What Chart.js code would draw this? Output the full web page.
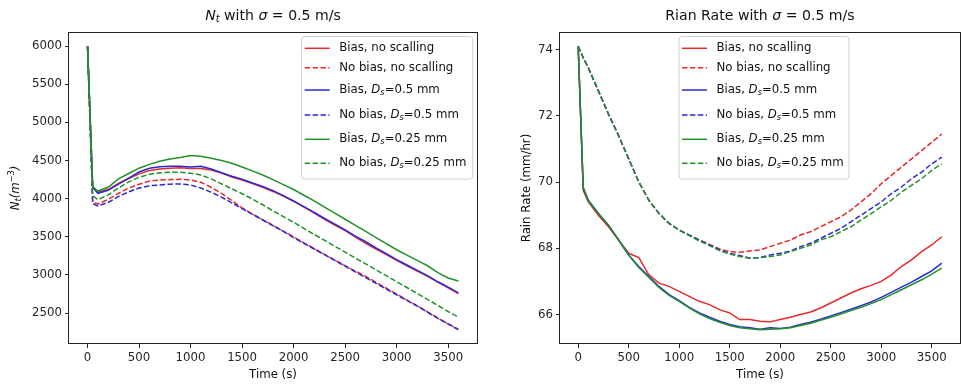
<!DOCTYPE html>
<html>
<head>
<meta charset="utf-8">
<script src="https://cdn.jsdelivr.net/npm/chart.js@4.4.1/dist/chart.umd.min.js"></script>
<style>
  html, body { margin: 0; padding: 0; background: #fff; }
  #wrap { position: relative; width: 961px; height: 387px; }
  canvas { position: absolute; top: 0; }
  #ntChart { left: 0; }
  #rrChart { left: 480px; }
</style>
</head>
<body>
<div id="wrap">
  <canvas id="ntChart" width="480" height="387"></canvas>
  <canvas id="rrChart" width="481" height="387"></canvas>
</div>
<script>
// time axis (s)
const times = [0, 50, 100, 200, 300, 400, 500, 600, 700, 800, 900, 1000, 1100, 1200, 1300, 1400, 1500, 1600, 1700, 1800,
  1900, 2000, 2100, 2200, 2300, 2400, 2500, 2600, 2700, 2800, 2900, 3000, 3100, 3200, 3300, 3400, 3500, 3600];
const timeTicks = [0, 500, 1000, 1500, 2000, 2500, 3000, 3500];
const ntTicks = [2500, 3000, 3500, 4000, 4500, 5000, 5500, 6000];
const rrTicks = [66, 68, 70, 72, 74];

const seriesLabels = ['Bias, no scalling', 'No bias, no scalling', 'Bias, Ds=0.5 mm', 'No bias, Ds=0.5 mm',
  'Bias, Ds=0.25 mm', 'No bias, Ds=0.25 mm'];

// N_t (m^-3)
const ntBiasNoScale = [6000, 4150, 4085, 4120, 4200, 4265, 4325, 4370, 4390, 4400, 4405, 4395, 4395, 4375, 4335, 4285, 4245, 4200, 4150, 4095,
  4035, 3965, 3890, 3810, 3730, 3655, 3580, 3495, 3415, 3340, 3265, 3190, 3120, 3050, 2980, 2905, 2830, 2755];
const ntNoBiasNoScale = [6000, 3955, 3930, 3990, 4070, 4140, 4190, 4230, 4245, 4250, 4255, 4245, 4215, 4150, 4070, 3975, 3880, 3800, 3725, 3650,
  3575, 3500, 3420, 3345, 3270, 3195, 3120, 3050, 2980, 2905, 2825, 2750, 2670, 2595, 2515, 2435, 2355, 2280];
const ntBias05 = [6000, 4150, 4070, 4110, 4190, 4270, 4350, 4400, 4420, 4425, 4425, 4415, 4425, 4390, 4340, 4295, 4255, 4205, 4160, 4105,
  4040, 3970, 3895, 3820, 3740, 3665, 3590, 3510, 3435, 3355, 3280, 3200, 3130, 3060, 2990, 2910, 2840, 2765];
const ntNoBias05 = [6000, 3935, 3905, 3950, 4030, 4090, 4140, 4170, 4180, 4190, 4193, 4180, 4140, 4085, 4020, 3945, 3870, 3795, 3720, 3645,
  3570, 3490, 3415, 3340, 3265, 3190, 3115, 3040, 2965, 2890, 2815, 2740, 2665, 2590, 2510, 2430, 2360, 2285];
const ntBias025 = [6000, 4160, 4100, 4150, 4260, 4330, 4400, 4450, 4490, 4520, 4540, 4565, 4555, 4530, 4500, 4465, 4415, 4365, 4310, 4250,
  4185, 4120, 4045, 3970, 3890, 3810, 3730, 3650, 3570, 3490, 3410, 3330, 3260, 3190, 3120, 3030, 2960, 2920];
const ntNoBias025 = [6000, 4040, 3985, 4050, 4140, 4220, 4280, 4320, 4340, 4345, 4345, 4335, 4310, 4260, 4195, 4130, 4065, 3995, 3920, 3840,
  3765, 3690, 3610, 3530, 3455, 3375, 3300, 3220, 3145, 3065, 2990, 2910, 2835, 2755, 2680, 2600, 2520, 2445];

// rain rate (mm/hr)
const rrBiasNoScale = [74.1, 69.75, 69.4, 69.0, 68.65, 68.25, 67.85, 67.72, 67.2, 66.95, 66.85, 66.7, 66.55, 66.4, 66.3, 66.15, 66.05, 65.85, 65.85, 65.8,
  65.78, 65.85, 65.92, 66.0, 66.08, 66.2, 66.35, 66.5, 66.65, 66.78, 66.88, 67.0, 67.2, 67.45, 67.65, 67.9, 68.1, 68.35];
const rrNoBiasNoScale = [74.1, 73.75, 73.45, 72.75, 72.05, 71.4, 70.7, 70.0, 69.45, 69.05, 68.75, 68.55, 68.4, 68.25, 68.12, 67.98, 67.9, 67.88, 67.92, 67.95,
  68.05, 68.15, 68.25, 68.4, 68.5, 68.65, 68.8, 68.95, 69.15, 69.4, 69.65, 69.95, 70.2, 70.45, 70.7, 70.95, 71.2, 71.45];
const rrBias05 = [74.1, 69.8, 69.45, 69.05, 68.7, 68.25, 67.8, 67.45, 67.15, 66.85, 66.6, 66.42, 66.22, 66.05, 65.92, 65.8, 65.7, 65.63, 65.6, 65.56,
  65.6, 65.58, 65.62, 65.7, 65.77, 65.86, 65.96, 66.06, 66.16, 66.27, 66.38, 66.52, 66.67, 66.83, 66.98, 67.15, 67.32, 67.55];
const rrNoBias05 = [74.1, 73.75, 73.45, 72.75, 72.05, 71.4, 70.7, 70.0, 69.45, 69.05, 68.75, 68.55, 68.4, 68.25, 68.1, 67.95, 67.85, 67.78, 67.7, 67.72,
  67.8, 67.85, 67.92, 68.05, 68.15, 68.3, 68.45, 68.6, 68.8, 69.0, 69.2, 69.4, 69.65, 69.85, 70.1, 70.3, 70.55, 70.75];
const rrBias025 = [74.1, 69.85, 69.45, 69.05, 68.7, 68.25, 67.8, 67.42, 67.12, 66.82, 66.58, 66.4, 66.2, 66.02, 65.88, 65.77, 65.67, 65.6, 65.57, 65.54,
  65.56, 65.57, 65.6, 65.67, 65.74, 65.83, 65.92, 66.02, 66.12, 66.22, 66.33, 66.45, 66.6, 66.75, 66.9, 67.05, 67.22, 67.4];
const rrNoBias025 = [74.1, 73.75, 73.45, 72.75, 72.05, 71.4, 70.7, 70.0, 69.45, 69.05, 68.75, 68.55, 68.38, 68.22, 68.08, 67.93, 67.83, 67.75, 67.7, 67.72,
  67.75, 67.8, 67.9, 68.0, 68.1, 68.25, 68.35, 68.5, 68.65, 68.85, 69.05, 69.25, 69.45, 69.7, 69.9, 70.1, 70.35, 70.55];

const FONT = '"DejaVu Sans", sans-serif';
const lineColors = ['#e8292b', '#e8292b', '#2a2ad8', '#2a2ad8', '#23902a', '#23902a'];
const DASH = [5.5, 2.4];

// mathtext-ish pieces for the labels
const legendRich = [
  [{ t: 'Bias, no scalling' }],
  [{ t: 'No bias, no scalling' }],
  [{ t: 'Bias, ' }, { t: 'D', it: 1 }, { t: 's', it: 1, sub: 1 }, { t: '=0.5 mm' }],
  [{ t: 'No bias, ' }, { t: 'D', it: 1 }, { t: 's', it: 1, sub: 1 }, { t: '=0.5 mm' }],
  [{ t: 'Bias, ' }, { t: 'D', it: 1 }, { t: 's', it: 1, sub: 1 }, { t: '=0.25 mm' }],
  [{ t: 'No bias, ' }, { t: 'D', it: 1 }, { t: 's', it: 1, sub: 1 }, { t: '=0.25 mm' }]
];

function segFont(s, size) {
  const sz = (s.sub || s.sup) ? size * 0.7 : size;
  return (s.it ? 'italic ' : '') + sz + 'px ' + FONT;
}

function drawRich(ctx, segs, x, y, size, align) {
  let w = 0;
  segs.forEach(s => { ctx.font = segFont(s, size); w += ctx.measureText(s.t).width; });
  let cx = align === 'left' ? x : x - w / 2;
  ctx.textAlign = 'left';
  ctx.textBaseline = 'middle';
  segs.forEach(s => {
    ctx.font = segFont(s, size);
    let dy = 0;
    if (s.sub) dy = size * 0.25;
    if (s.sup) dy = -size * 0.38;
    ctx.fillText(s.t, cx, y + dy);
    cx += ctx.measureText(s.t).width;
  });
}

const decor = {
  id: 'decor',
  afterDraw(chart, args, o) {
    const ctx = chart.ctx, a = chart.chartArea;
    const mid = (a.left + a.right) / 2;
    ctx.save();
    ctx.strokeStyle = '#222';
    ctx.lineWidth = 1;
    ctx.strokeRect(Math.round(a.left) - 0.5, Math.round(a.top) + 0.5, Math.round(a.right - a.left) + 1, Math.round(a.bottom - a.top) - 1);

    ctx.fillStyle = '#111';
    drawRich(ctx, o.title, mid, 16, 14.1, 'center');
    drawRich(ctx, [{ t: 'Time (s)' }], mid, 375, 11.75, 'center');
    ctx.save();
    ctx.translate(o.yTitleX, (a.top + a.bottom) / 2);
    ctx.rotate(-Math.PI / 2);
    drawRich(ctx, o.yTitle, 0, 0, 11.75, 'center');
    ctx.restore();

    // legend
    const L = o.legend;
    const bx = L.x, by = a.top + 4.5, bw = L.w, bh = 142.5, r = 3;
    ctx.beginPath();
    ctx.moveTo(bx + r, by);
    ctx.arcTo(bx + bw, by, bx + bw, by + bh, r);
    ctx.arcTo(bx + bw, by + bh, bx, by + bh, r);
    ctx.arcTo(bx, by + bh, bx, by, r);
    ctx.arcTo(bx, by, bx + bw, by, r);
    ctx.closePath();
    ctx.fillStyle = 'rgba(255,255,255,0.8)';
    ctx.fill();
    ctx.strokeStyle = '#d0d0d0';
    ctx.stroke();
    const rows = [11.8, 31.2, 53.5, 78.5, 102.8, 126.8];
    chart.data.datasets.forEach((ds, i) => {
      const ry = by + rows[i];
      ctx.beginPath();
      ctx.setLineDash(ds.borderDash || []);
      ctx.strokeStyle = ds.borderColor;
      ctx.lineWidth = 1.5;
      ctx.moveTo(bx + 3, ry);
      ctx.lineTo(bx + 28, ry);
      ctx.stroke();
      ctx.setLineDash([]);
      ctx.fillStyle = '#111';
      drawRich(ctx, legendRich[i], bx + 37.5, ry, 11.75, 'left');
    });
    ctx.restore();
  }
};

function padRange(lists) {
  const all = lists.flat();
  const mn = Math.min(...all), mx = Math.max(...all);
  const d = (mx - mn) * 0.05;
  return [mn - d, mx + d];
}

function makeChart(id, seriesList, yTicks, opts) {
  const [ymin, ymax] = padRange(seriesList);
  const tpad = (times[times.length - 1] - times[0]) * 0.05;
  const datasets = seriesList.map((vals, i) => ({
    label: seriesLabels[i],
    data: times.map((t, j) => ({ x: t, y: vals[j] })),
    borderColor: lineColors[i],
    borderDash: i % 2 ? DASH : [],
    borderWidth: 1.5,
    pointRadius: 0,
    tension: 0,
    fill: false,
    order: 5 - i
  }));
  const tickStyle = { font: { family: FONT, size: 11.75 }, color: '#262626', padding: 3, autoSkip: false, maxRotation: 0 };
  const gridStyle = { drawOnChartArea: false, drawTicks: true, tickLength: 4, tickColor: '#222', lineWidth: 1 };
  return new Chart(document.getElementById(id), {
    type: 'line',
    data: { datasets },
    options: {
      responsive: false,
      animation: false,
      devicePixelRatio: 1,
      layout: { padding: { top: 32, right: opts.padRight, left: 0, bottom: 0 } },
      plugins: {
        legend: { display: false },
        tooltip: { enabled: false },
        decor: opts.decor
      },
      scales: {
        x: {
          type: 'linear', min: times[0] - tpad, max: times[times.length - 1] + tpad,
          border: { display: false }, grid: gridStyle,
          ticks: Object.assign({}, tickStyle, { callback: v => String(v) }),
          afterBuildTicks: s => { s.ticks = timeTicks.map(v => ({ value: v })); },
          afterFit: s => { s.height = 43; }
        },
        y: {
          type: 'linear', min: ymin, max: ymax,
          border: { display: false }, grid: gridStyle,
          ticks: Object.assign({}, tickStyle, { callback: v => String(v) }),
          afterBuildTicks: s => { s.ticks = yTicks.map(v => ({ value: v })); },
          afterFit: s => { s.width = opts.yWidth; }
        }
      }
    },
    plugins: [decor]
  });
}

makeChart('ntChart', [ntBiasNoScale, ntNoBiasNoScale, ntBias05, ntNoBias05, ntBias025, ntNoBias025], ntTicks, {
  padRight: 3, yWidth: 69,
  decor: {
    title: [{ t: 'N', it: 1 }, { t: 't', it: 1, sub: 1 }, { t: ' with ' }, { t: 'σ', it: 1 }, { t: ' = 0.5 m/s' }],
    yTitle: [{ t: 'N', it: 1 }, { t: 't', it: 1, sub: 1 }, { t: '(m', it: 1 }, { t: '−3', sup: 1 }, { t: ')', it: 1 }],
    yTitleX: 16,
    legend: { x: 301.7, w: 171 }
  }
});

makeChart('rrChart', [rrBiasNoScale, rrNoBiasNoScale, rrBias05, rrNoBias05, rrBias025, rrNoBias025], rrTicks, {
  padRight: 1, yWidth: 80,
  decor: {
    title: [{ t: 'Rian Rate with ' }, { t: 'σ', it: 1 }, { t: ' = 0.5 m/s' }],
    yTitle: [{ t: 'Rain Rate (mm/hr)' }],
    yTitleX: 46.7,
    legend: { x: 199, w: 170 }
  }
});
</script>
</body>
</html>
